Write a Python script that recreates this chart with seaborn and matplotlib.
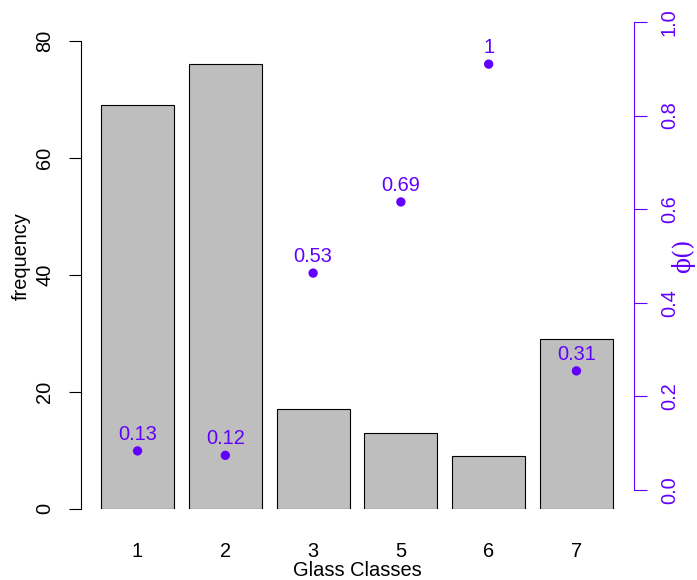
import pandas as pd
import numpy as np
import matplotlib
matplotlib.use("Agg")
import matplotlib.pyplot as plt
import seaborn as sns

# data
classes = ["1", "2", "3", "5", "6", "7"]
frequency = [69, 76, 17, 13, 9, 29]
phi = [0.13, 0.12, 0.53, 0.69, 1.0, 0.31]
phi_labels = ["0.13", "0.12", "0.53", "0.69", "1", "0.31"]

df = pd.DataFrame({"cls": classes, "freq": frequency, "phi": phi})
# points sit on the frequency scale, scaled by the largest count
df["point_y"] = df["phi"] * df["freq"].max()

purple = "#6200FF"
sns.set_style("white")
plt.rcParams["font.family"] = ["Liberation Sans", "DejaVu Sans"]
plt.rcParams["text.color"] = "black"
plt.rcParams["axes.labelcolor"] = "black"
plt.rcParams["xtick.color"] = "black"
plt.rcParams["ytick.color"] = "black"
fs = 14.4

fig = plt.figure(figsize=(6.97, 5.8), dpi=100)
ax = fig.add_axes([80.5 / 697, 1 - 508.7 / 580, 553 / 697, 505.4 / 580])

sns.barplot(data=df, x="cls", y="freq", color="#BEBEBE", saturation=1,
            edgecolor="black", linewidth=0.8, width=1 / 1.2, ax=ax)
pos = np.arange(len(classes))
sns.scatterplot(x=pos, y=df["point_y"], color=purple, s=45, edgecolor="none", ax=ax, zorder=5)
for x, y, lab in zip(pos, df["point_y"], phi_labels):
    ax.annotate(lab, (x, y), xytext=(0, 12), textcoords="offset points",
                ha="center", va="center", color=purple, fontsize=fs)

ax.set_xlim(-0.65, 5.65)
ax.set_ylim(0, 86.4)
ax.set_yticks([0, 20, 40, 60, 80])
ax.set_yticklabels(["0", "20", "40", "60", "80"], rotation=90, va="center", fontsize=fs)
ax.tick_params(axis="y", length=9, width=0.8, pad=10, left=True, colors="black")
ax.tick_params(axis="x", length=0, pad=24, labelsize=fs, colors="black")
for s in ["top", "right", "bottom"]:
    ax.spines[s].set_visible(False)
ax.spines["left"].set_bounds(0, 80)
ax.spines["left"].set_linewidth(0.8)
ax.spines["left"].set_color("black")
ax.set_xlabel("Glass Classes", fontsize=fs, labelpad=0, color="black")
ax.set_ylabel("frequency", fontsize=fs, labelpad=3, color="black")

# right axis for phi
ax2 = ax.twinx()
ax2.set_ylim(-0.04, 1.04)
ax2.set_yticks([0, 0.2, 0.4, 0.6, 0.8, 1.0])
ax2.set_yticklabels(["0.0", "0.2", "0.4", "0.6", "0.8", "1.0"], rotation=90,
                    va="center", fontsize=fs, color=purple)
ax2.tick_params(axis="y", length=9, width=0.8, pad=10, colors=purple, right=True)
for s in ["top", "left", "bottom"]:
    ax2.spines[s].set_visible(False)
ax2.spines["right"].set_bounds(0, 1)
ax2.spines["right"].set_color(purple)
ax2.spines["right"].set_linewidth(0.8)
ax2.text(1.09, 0.5, "ϕ()", transform=ax.transAxes, rotation=90, ha="center",
         va="center", color=purple, fontsize=17, family=["DejaVu Serif"])

fig.savefig("out.png", dpi=100)
